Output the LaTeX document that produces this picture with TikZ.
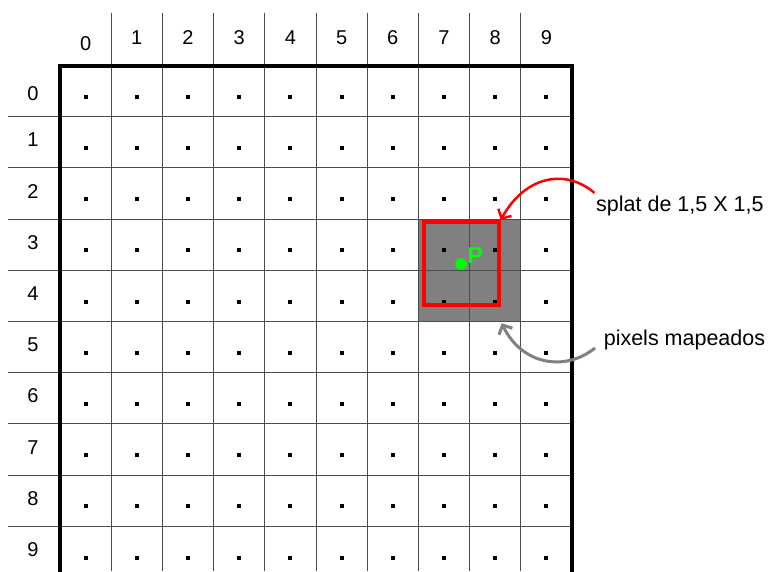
\documentclass[tikz,border=0pt]{standalone}
\usepackage{fontspec}
\setmainfont{Liberation Sans}
\newfontfamily\boldPfont{Liberation Sans Bold}
\usetikzlibrary{arrows.meta}
\definecolor{gridc}{gray}{0.3}
\definecolor{fillg}{gray}{0.5}
\definecolor{arrg}{gray}{0.5}
\tikzset{
  gridline/.style={draw=gridc, line width=1pt},
  border/.style={draw=black, line width=4pt, line join=miter},
  digit/.style={font=\fontsize{20}{20}\selectfont, inner sep=0pt, anchor=base},
  note/.style={font=\fontsize{21.5}{21.5}\selectfont, inner sep=0pt, anchor=base west},
  redarrow/.style={draw=red, line width=2.5pt, -{Straight Barb[length=7pt,width=15pt]}},
  grayarrow/.style={draw=arrg, line width=3pt, -{Straight Barb[length=7pt,width=15pt]}},
}
\begin{document}
\begin{tikzpicture}[x=1pt,y=-1pt]
\useasboundingbox (0,0) rectangle (768,571);
\clip (0,0) rectangle (768,571);
% mapped pixels
\node[fill=fillg, inner sep=0pt, minimum width=102.4pt, minimum height=102.4pt] (mapped) at (469.6,270.3) {};
% grid lines
\foreach \c in {1,...,9} {
  \draw[gridline] ({60+51.2*\c},13.3) -- ({60+51.2*\c},571);
}
\foreach \r in {1,...,9} {
  \draw[gridline] (8.3,{65.5+51.2*\r}) -- (572,{65.5+51.2*\r});
}
% dots
\foreach \c in {0,...,9} {
  \foreach \r in {0,...,9} {
    \fill[black] ({60+51.2*\c+25.6-2},{65.5+51.2*\r+31.2-2}) rectangle ++(4,4);
  }
}
% border
\draw[border] (60,575) -- (60,66) -- (572,66) -- (572,575);
% column headers
\node[digit] (h0) at (85.6,50.3) {0};
\foreach \c in {1,...,9} {
  \node[digit] (h\c) at ({85.6+51.2*\c},44.8) {\c};
}
% row headers
\node[digit] (r0) at (33,100.8) {0};
\foreach \r in {1,...,9} {
  \node[digit] (r\r) at (33,{146.8+51.2*(\r-1)}) {\r};
}
% splat box
\node[draw=red, line width=4pt, inner sep=0pt, outer sep=2pt, minimum width=75pt, minimum height=83pt] (splatbox) at (461.2,263.5) {};
% point P
\fill[green] (461,264) circle (5.8);
\node[font=\boldPfont\fontsize{23}{23}\selectfont, text=green, inner sep=0pt, anchor=base west] (P) at (467.5,263.5) {P};
% notes
\node[note] (splat) at (596,211.7) {splat de 1,5 X 1,5};
\node[note] (pix) at (603.6,345) {pixels mapeados};
\coordinate (ptip) at (501.7,323.3);
% arrows
\draw[redarrow] ([xshift=-1.5pt,yshift=3pt]splat.north west) .. controls (565,168) and (525,176) .. (splatbox.north east);
\draw[grayarrow] ([xshift=-8.6pt,yshift=-3pt]pix.base west) .. controls (565,372) and (522,365) .. (ptip);
\end{tikzpicture}
\end{document}
